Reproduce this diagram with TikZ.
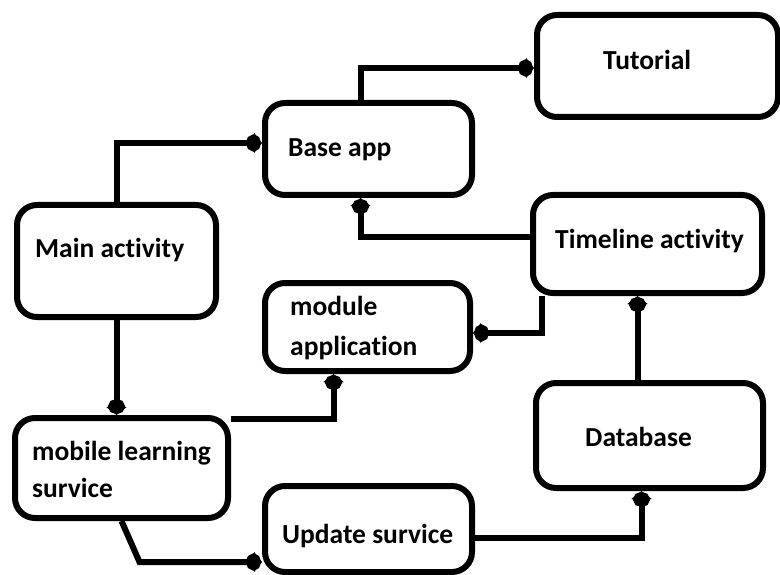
\documentclass[tikz,border=0pt]{standalone}
\usepackage{fontspec}
\setmainfont{Carlito}[Ligatures=NoCommon]
\usetikzlibrary{arrows.meta,calc}
\begin{document}
\begin{tikzpicture}[x=1pt,y=-1pt,
  box/.style={draw, line width=6pt, rounded corners=20pt, inner sep=0pt},
  lbl/.style={anchor=base west, inner sep=0pt, font=\fontsize{27.5}{33}\selectfont\bfseries},
  conn/.style={line width=6pt, -{Circle[length=15pt,width=17pt,sep=-7pt]Triangle[length=8pt,width=20pt]}}]
\useasboundingbox (0,0) rectangle (780,575);
% boxes
\node[box, minimum width=241pt, minimum height=102pt] (tut)  at (657.5,66) {};
\node[box, minimum width=207pt, minimum height=92pt]  (base) at (368.5,149) {};
\node[box, minimum width=229pt, minimum height=98pt]  (tl)   at (647.5,244) {};
\node[box, minimum width=199pt, minimum height=112pt] (main) at (116.5,261) {};
\node[box, minimum width=205pt, minimum height=88pt]  (mod)  at (367.5,327) {};
\node[box, minimum width=213pt, minimum height=100pt] (mob)  at (121.5,468) {};
\node[box, minimum width=227pt, minimum height=105pt] (db)   at (649.5,435.5) {};
\node[box, minimum width=207pt, minimum height=86pt]  (upd)  at (368.5,529) {};
% labels
\node[lbl] (tTut)  at (603,70)  {Tutorial};
\node[lbl] (tBase) at (288,157) {Base app};
\node[lbl] (tTl)   at (555,248) {Timeline activity};
\node[lbl] (tMain) at (35,258)  {Main activity};
\node[lbl] (tMod1) at (290,315) {module};
\node[lbl] (tMod2) at (290,355) {application};
\node[lbl] (tMob1) at (32,460)  {mobile learning};
\node[lbl] (tMob2) at (32,497)  {survice};
\node[lbl] (tDb)   at (585,446) {Database};
\node[lbl] (tUpd)  at (282,543) {Update survice};
% connectors
\draw[conn] (main.north) |- ([yshift=6pt]base.west);
\draw[conn] ([xshift=-8pt]base.north) |- ([yshift=-2pt]tut.west);
\draw[conn] ([yshift=7pt]tl.west) -| ([xshift=-8pt]base.south);
\draw[conn] ([xshift=12pt]tl.south west) |- ([yshift=-6pt]mod.east);
\draw[conn] ([xshift=-12pt]db.north) -- ([xshift=-12pt]db.north |- tl.south);
\draw[conn] (main.south) -- (main.south |- mob.north);
\draw[conn] ([yshift=-4pt]mob.north east) -| ([xshift=-34pt]mod.south);
\draw[conn] (mob.south) -- ++(18,41) coordinate (k) -- (k -| upd.west);
\draw[conn] ([yshift=-9pt]upd.east) -| ([xshift=-8pt]db.south);
\end{tikzpicture}
\end{document}
